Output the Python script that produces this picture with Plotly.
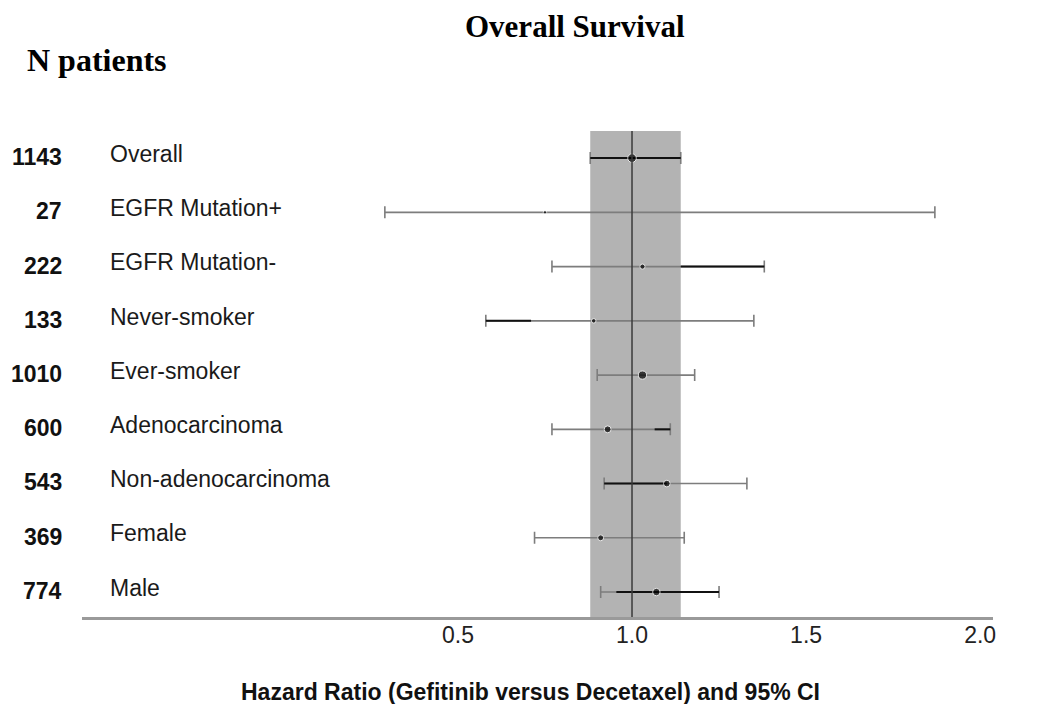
import numpy as np
import plotly.graph_objects as go

# ---- data ----
subgroups = ["Overall", "EGFR Mutation+", "EGFR Mutation-", "Never-smoker", "Ever-smoker",
             "Adenocarcinoma", "Non-adenocarcinoma", "Female", "Male"]
n_patients = [1143, 27, 222, 133, 1010, 600, 543, 369, 774]
hr = [1.00, 0.75, 1.03, 0.89, 1.03, 0.93, 1.10, 0.91, 1.07]
ci_low = [0.88, 0.29, 0.77, 0.58, 0.90, 0.77, 0.92, 0.72, 0.91]
ci_high = [1.14, 1.87, 1.38, 1.35, 1.18, 1.11, 1.33, 1.15, 1.25]
# darker overprinted parts of the interval lines in the original image
dark_low = [0.88, None, 1.14, 0.58, None, 1.065, 0.92, None, 0.955]
dark_high = [1.14, None, 1.38, 0.71, None, 1.11, 1.10, None, 1.25]
tick_vals = [0.5, 1.0, 1.5, 2.0]
tick_text = ["0.5", "1.0", "1.5", "2.0"]
title = "Overall Survival"
n_header = "N patients"
x_title = "Hazard Ratio (Gefitinib versus Decetaxel) and 95% CI"

rows = list(range(len(subgroups)))
band_low, band_high = ci_low[0], ci_high[0]

fig = go.Figure()

# full confidence intervals (grey) with caps
fig.add_trace(go.Scatter(
    x=hr, y=rows, mode="markers",
    marker=dict(size=0.1, color="rgba(0,0,0,0)"),
    error_x=dict(type="data", symmetric=False,
                 array=[h - e for e, h in zip(hr, ci_high)],
                 arrayminus=[e - l for e, l in zip(hr, ci_low)],
                 color="#7d7d7d", thickness=1.6, width=6),
    showlegend=False, hoverinfo="skip"))

# darker segments
dx, dy = [], []
for r, lo, hi in zip(rows, dark_low, dark_high):
    if lo is None:
        continue
    dx += [lo, hi, None]
    dy += [r, r, None]
fig.add_trace(go.Scatter(x=dx, y=dy, mode="lines",
                         line=dict(color="#111111", width=2),
                         showlegend=False, hoverinfo="skip"))

# point estimates
sizes = [2.5 + 0.18 * np.sqrt(n) for n in n_patients]
fig.add_trace(go.Scatter(x=hr, y=rows, mode="markers",
                         marker=dict(size=sizes, color="#000000"),
                         showlegend=False))

shapes = [
    dict(type="rect", xref="x", yref="paper", x0=band_low, x1=band_high, y0=0, y1=1,
         fillcolor="#b3b3b3", line=dict(width=0), layer="below"),
    dict(type="line", xref="x", yref="paper", x0=1.0, x1=1.0, y0=0, y1=1,
         line=dict(color="#3a3a3a", width=1.5)),
]

annotations = []
for r, name, n in zip(rows, subgroups, n_patients):
    annotations.append(dict(xref="paper", yref="y", x=-0.020, y=r - 0.02, text=f"<b>{n}</b>",
                            xanchor="right", yanchor="middle", showarrow=False,
                            font=dict(family="Liberation Sans", size=23, color="#111")))
    annotations.append(dict(xref="paper", yref="y", x=0.029, y=r - 0.08, text=name,
                            xanchor="left", yanchor="middle", showarrow=False,
                            font=dict(family="Liberation Sans", size=23, color="#1a1a1a")))

annotations += [
    dict(xref="paper", yref="paper", x=0.541, y=1.214, text=f"<b>{title}</b>",
         xanchor="center", yanchor="middle", showarrow=False,
         font=dict(family="Liberation Serif", size=31, color="#000")),
    dict(xref="paper", yref="paper", x=-0.063, y=1.146, text=f"<b>{n_header}</b>",
         xanchor="left", yanchor="middle", showarrow=False,
         font=dict(family="Liberation Serif", size=32, color="#000")),
    dict(xref="paper", yref="paper", x=0.492, y=-0.154, text=f"<b>{x_title}</b>",
         xanchor="center", yanchor="middle", showarrow=False,
         font=dict(family="Liberation Sans", size=23, color="#111")),
]

fig.update_layout(
    width=1054, height=704,
    margin=dict(l=74, r=69, t=123, b=95),
    paper_bgcolor="white", plot_bgcolor="white",
    shapes=shapes, annotations=annotations,
    xaxis=dict(range=[-0.58, 2.037], showgrid=False, zeroline=False,
               showline=True, linecolor="#9a9a9a", linewidth=3,
               tickvals=tick_vals, ticktext=tick_text, ticks="",
               ticklabelstandoff=-5,
               tickfont=dict(family="Liberation Sans", size=23, color="#222")),
    yaxis=dict(range=[8.46, -0.5], showgrid=False, zeroline=False,
               showline=False, showticklabels=False),
)

fig.write_html("out.html")
